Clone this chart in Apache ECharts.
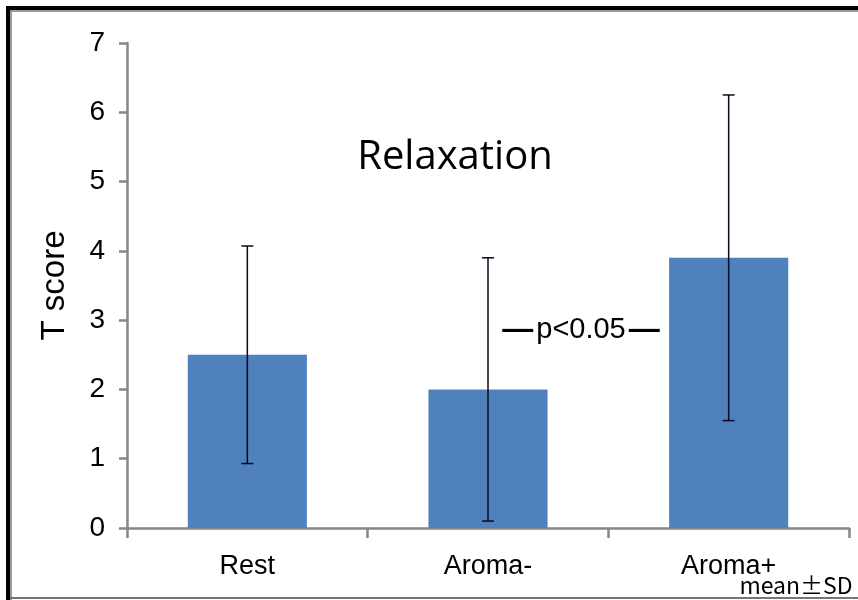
<!DOCTYPE html>
<html>
<head>
<meta charset="utf-8">
<script src="https://cdn.jsdelivr.net/npm/echarts@6/dist/echarts.min.js"></script>
<style>
html,body{margin:0;padding:0;background:#fff;}
#chart{width:858px;height:600px;}
</style>
</head>
<body>
<div id="chart"></div>
<script>
const categories = ['Rest', 'Aroma-', 'Aroma+'];
const means = [2.5, 2.0, 3.9];
const sds = [1.57, 1.9, 2.35];
const yTicks = [0, 1, 2, 3, 4, 5, 6, 7];
const titleText = 'Relaxation';
const yAxisName = 'T score';
const pText = 'p<0.05';
const noteText = 'mean\u00B1SD';

const errData = categories.map((c, i) => [i, means[i] - sds[i], means[i] + sds[i]]);

const chart = echarts.init(document.getElementById('chart'), null, {renderer: 'canvas'});
const axisColor = '#878787';

chart.setOption({
  animation: false,
  backgroundColor: '#fff',
  grid: {left: 127, right: 9, top: 43, bottom: 72, containLabel: false},
  xAxis: {
    type: 'category',
    data: categories,
    boundaryGap: true,
    axisLine: {lineStyle: {color: axisColor, width: 2.5}},
    axisTick: {show: true, length: 10, lineStyle: {color: axisColor, width: 2.5}},
    axisLabel: {color: '#000', fontFamily: 'Liberation Sans, Arial', fontSize: 27, margin: 25}
  },
  yAxis: {
    type: 'value',
    min: yTicks[0],
    max: yTicks[yTicks.length - 1],
    interval: 1,
    name: yAxisName,
    nameLocation: 'middle',
    nameGap: 56,
    nameRotate: 90,
    nameTextStyle: {color: '#000', fontFamily: 'Liberation Sans, Arial', fontSize: 33},
    axisLine: {show: true, lineStyle: {color: axisColor, width: 2.5}},
    axisTick: {show: true, length: 8, lineStyle: {color: axisColor, width: 2.5}},
    splitLine: {show: false},
    axisLabel: {color: '#000', fontFamily: 'Liberation Sans, Arial', fontSize: 28, margin: 22}
  },
  title: {
    text: titleText,
    left: 450,
    top: 133,
    textAlign: 'center',
    textStyle: {fontFamily: 'Open Sans', fontWeight: 'normal', fontSize: 40, color: '#000'}
  },
  series: [
    {
      type: 'bar',
      data: means,
      barWidth: '49.5%',
      itemStyle: {color: '#4F81BD'},
      z: 2
    },
    {
      type: 'custom',
      data: errData,
      z: 5,
      renderItem: function (params, api) {
        const x = api.value(0);
        const lo = api.coord([x, api.value(1)]);
        const hi = api.coord([x, api.value(2)]);
        const hw = 6;
        const style = {stroke: '#0a0a1e', lineWidth: 1.5};
        return {
          type: 'group',
          children: [
            {type: 'line', shape: {x1: hi[0], y1: hi[1], x2: lo[0], y2: lo[1]}, style: style},
            {type: 'line', shape: {x1: hi[0] - hw, y1: hi[1], x2: hi[0] + hw, y2: hi[1]}, style: style},
            {type: 'line', shape: {x1: lo[0] - hw, y1: lo[1], x2: lo[0] + hw, y2: lo[1]}, style: style}
          ]
        };
      }
    }
  ],
  graphic: [
    {type: 'rect', shape: {x: 6, y: 6, width: 4, height: 594}, style: {fill: '#000'}, z: 100},
    {type: 'rect', shape: {x: 6, y: 6, width: 852, height: 4}, style: {fill: '#000'}, z: 100},
    {type: 'rect', shape: {x: 10, y: 10, width: 2, height: 590}, style: {fill: '#9a9a9a'}, z: 100},
    {type: 'rect', shape: {x: 10, y: 10, width: 848, height: 2}, style: {fill: '#9a9a9a'}, z: 100},
    {type: 'rect', shape: {x: 10, y: 597, width: 848, height: 2}, style: {fill: '#777'}, z: 100},
    {
      type: 'text', x: 581, y: 330, z: 50,
      style: {
        text: '{d|\u2014}' + pText + '{d|\u2014}',
        align: 'center', verticalAlign: 'middle',
        fill: '#000', fontFamily: 'Liberation Sans, Arial', fontSize: 29,
        backgroundColor: '#fff',
        rich: {d: {fontFamily: 'Liberation Sans, Arial', fontSize: 31, fontWeight: 'bold', fill: '#000', padding: [0, 3, 0, 3]}}
      }
    },
    {
      type: 'text', x: 796, y: 585, z: 50,
      style: {
        text: noteText, align: 'center', verticalAlign: 'middle',
        fill: '#000', fontFamily: 'Noto Sans CJK JP', fontSize: 23
      }
    }
  ]
});
</script>
</body>
</html>
